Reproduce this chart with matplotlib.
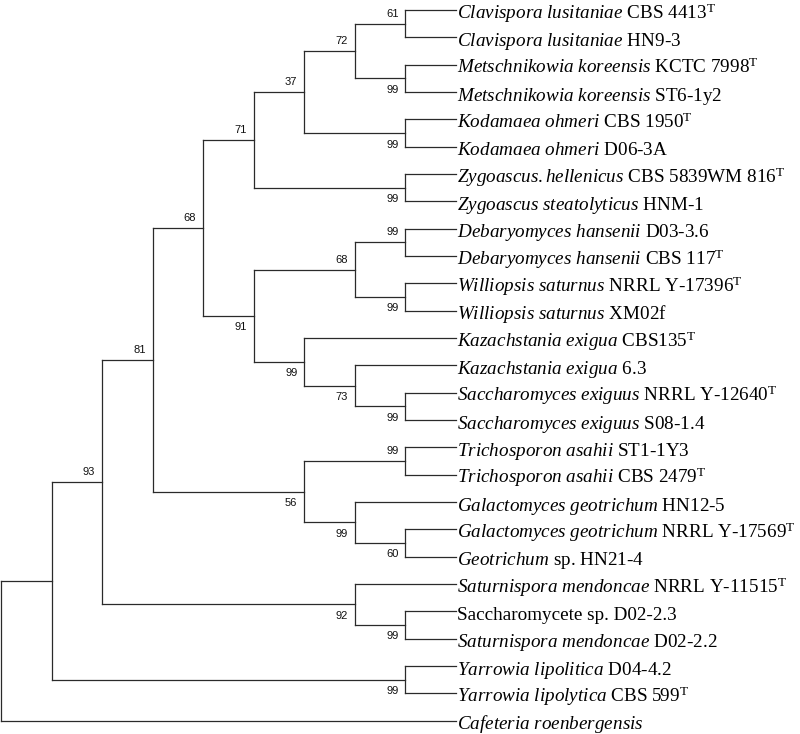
import matplotlib.pyplot as plt

plt.rcParams['font.family'] = ['Liberation Serif', 'DejaVu Serif']
plt.rcParams['mathtext.fontset'] = 'custom'
plt.rcParams['mathtext.rm'] = 'Liberation Serif'
plt.rcParams['mathtext.it'] = 'Liberation Serif:italic'

# taxa, top to bottom: italic part, roman part, type strain
genus_species = [
    'Clavispora lusitaniae', 'Clavispora lusitaniae',
    'Metschnikowia koreensis', 'Metschnikowia koreensis',
    'Kodamaea ohmeri', 'Kodamaea ohmeri',
    'Zygoascus.hellenicus', 'Zygoascus steatolyticus',
    'Debaryomyces hansenii', 'Debaryomyces hansenii',
    'Williopsis saturnus', 'Williopsis saturnus',
    'Kazachstania exigua', 'Kazachstania exigua',
    'Saccharomyces exiguus', 'Saccharomyces exiguus',
    'Trichosporon asahii', 'Trichosporon asahii',
    'Galactomyces geotrichum', 'Galactomyces geotrichum', 'Geotrichum',
    'Saturnispora mendoncae', '', 'Saturnispora mendoncae',
    'Yarrowia lipolitica', 'Yarrowia lipolytica',
    'Cafeteria roenbergensis',
]
strains = [
    'CBS 4413', 'HN9-3', 'KCTC 7998', 'ST6-1y2', 'CBS 1950', 'D06-3A',
    'CBS 5839WM 816', 'HNM-1', 'D03-3.6', 'CBS 117', 'NRRL Y-17396', 'XM02f',
    'CBS135', '6.3', 'NRRL Y-12640', 'S08-1.4', 'ST1-1Y3', 'CBS 2479',
    'HN12-5', 'NRRL Y-17569', 'sp. HN21-4', 'NRRL Y-11515',
    'Saccharomycete sp. D02-2.3', 'D02-2.2', 'D04-4.2', 'CBS 599', '',
]
type_strain = [1, 0, 1, 0, 1, 0, 1, 0, 0, 1, 1, 0, 1, 0, 1, 0, 0, 1,
               0, 1, 0, 1, 0, 0, 0, 1, 0]

# topology with bootstrap values (leaf numbers = rows above)
newick = ("(((((((((0,1)61,(2,3)99)72,(4,5)99)37,(6,7)99)71,"
          "(((8,9)99,(10,11)99)68,(12,(13,(14,15)99)73)99)91)68,"
          "((16,17)99,(18,(19,20)60)99)56)81,(21,(22,23)99)92)93,"
          "(24,25)99),26);")


def parse(s):
    pos = 0

    def node():
        nonlocal pos
        if s[pos] == '(':
            pos += 1
            kids = [node()]
            while s[pos] == ',':
                pos += 1
                kids.append(node())
            pos += 1
            start = pos
            while s[pos] not in ',);':
                pos += 1
            return {'kids': kids, 'boot': s[start:pos]}
        start = pos
        while s[pos] not in ',);':
            pos += 1
        return {'leaf': int(s[start:pos])}

    return node()


def layout(n):
    if 'leaf' in n:
        n['h'] = 0
        n['y'] = n['leaf']
        return
    for k in n['kids']:
        layout(k)
    n['h'] = 1 + max(k['h'] for k in n['kids'])
    n['y'] = (n['kids'][0]['y'] + n['kids'][-1]['y']) / 2


tree = parse(newick)
layout(tree)
depth = tree['h']

fig = plt.figure(figsize=(8, 7.34), dpi=100)
ax = fig.add_axes([0, 0, 1, 1])
ax.axis('off')
xstep, ystep = 50.56, 27.33
ax.set_xlim(-1 / xstep, 799 / xstep)
ax.set_ylim((734 - 10) / ystep, -10 / ystep)

line_kw = dict(color='#2a2a2a', lw=0.9, solid_capstyle='projecting')


def draw(n):
    if 'leaf' in n:
        return
    x = depth - n['h']
    kids = n['kids']
    ax.plot([x, x], [kids[0]['y'], kids[-1]['y']], **line_kw)
    for i, k in enumerate(kids):
        xk = depth - k['h']
        ax.plot([x, xk], [k['y'], k['y']], **line_kw)
        if k.get('boot'):
            dy = 7.2 if i == 0 else -8.3
            ax.annotate(k['boot'], (xk, k['y']), xytext=(-5, dy),
                        textcoords='offset points', ha='right', va='center',
                        fontsize=8, family='Liberation Sans', color='#111')
        draw(k)


draw(tree)

for i, (gs, st, t) in enumerate(zip(genus_species, strains, type_strain)):
    label = ''
    if gs:
        label += '$\\mathit{' + gs.replace(' ', '\\ ') + '}$'
        if st:
            label += ' '
    label += st
    if t:
        label += '$^{\\mathrm{T}}$'
    ax.annotate(label, (depth, i), xytext=(1.0, -6.2),
                textcoords='offset points', ha='left', va='baseline',
                fontsize=13.8, color='black')

fig.savefig('out.png', dpi=100)
